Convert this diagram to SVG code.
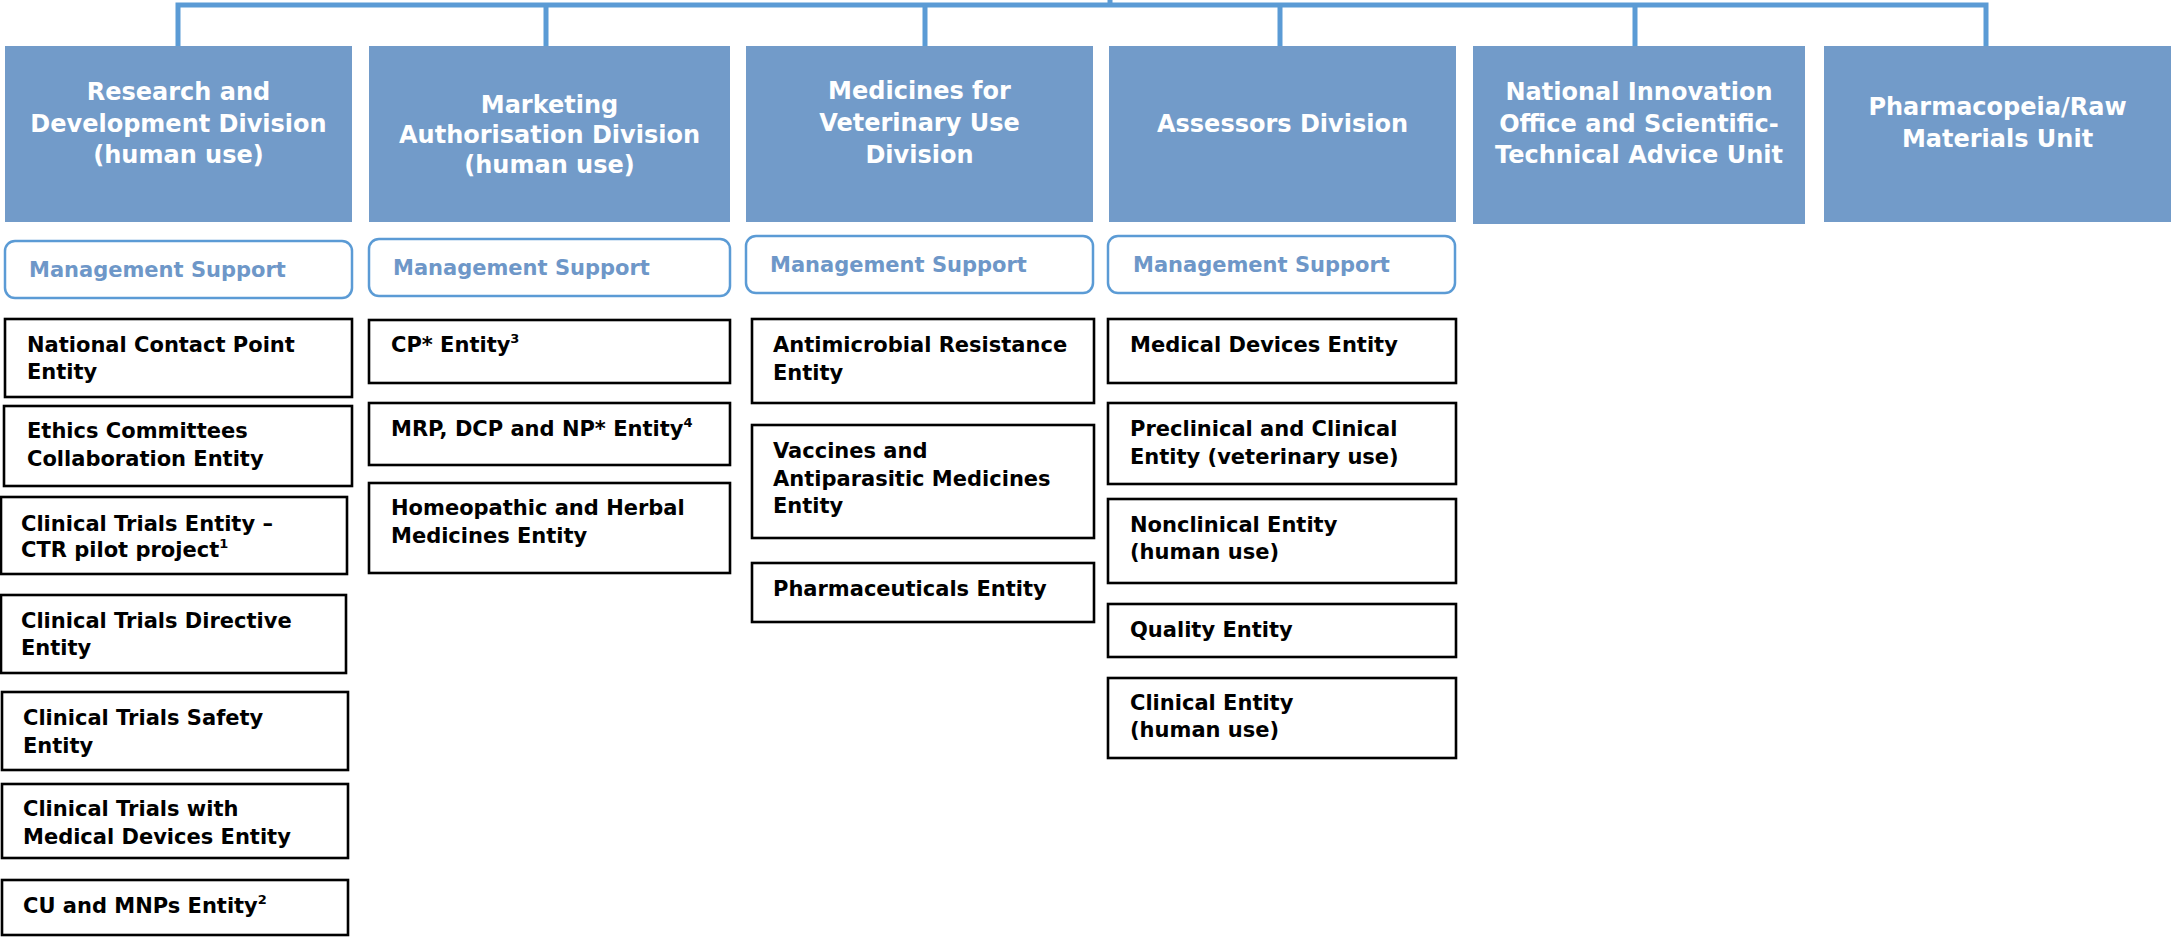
<svg xmlns="http://www.w3.org/2000/svg" width="2172" height="937" viewBox="0 0 2172 937">
<style>
.div rect{fill:#729BC9;}
.div text{fill:#fff;font-family:"DejaVu Sans",Verdana,sans-serif;font-weight:bold;font-size:24px;text-anchor:middle;}
.ms rect{fill:#fff;stroke:#5B9BD5;stroke-width:2.5;}
.ms text{fill:#6E97C8;font-family:"DejaVu Sans",Verdana,sans-serif;font-weight:bold;font-size:21px;}
.ent rect{fill:#fff;stroke:#000;stroke-width:2.6;}
.ent text{fill:#000;font-family:"DejaVu Sans",Verdana,sans-serif;font-weight:bold;font-size:21px;}
.sup{font-size:13px;}
.conn{fill:none;stroke:#5B9BD5;stroke-width:5;}
</style>
<rect width="2172" height="937" fill="#fff"/>
<g id="connectors">
<path class="conn" d="M178,46 V5 H1986 V46"/>
<path class="conn" d="M546,5 V46 M925,5 V46 M1280,5 V46 M1635,5 V46 M1110,0 V5"/>
</g>
<g id="div-rd" class="div"><rect x="5" y="46" width="347" height="176"/><text x="178.5" y="100">Research and</text><text x="178.5" y="131.5">Development Division</text><text x="178.5" y="163">(human use)</text></g>
<g id="div-ma" class="div"><rect x="369" y="46" width="361" height="176"/><text x="549.5" y="113">Marketing</text><text x="549.5" y="143">Authorisation Division</text><text x="549.5" y="173">(human use)</text></g>
<g id="div-vet" class="div"><rect x="746" y="46" width="347" height="176"/><text x="919.5" y="99">Medicines for</text><text x="919.5" y="131">Veterinary Use</text><text x="919.5" y="163">Division</text></g>
<g id="div-ass" class="div"><rect x="1109" y="46" width="347" height="176"/><text x="1282.5" y="132">Assessors Division</text></g>
<g id="div-nio" class="div"><rect x="1473" y="46" width="332" height="178"/><text x="1639" y="100">National Innovation</text><text x="1639" y="132">Office and Scientific-</text><text x="1639" y="163">Technical Advice Unit</text></g>
<g id="div-ph" class="div"><rect x="1824" y="46" width="347" height="176"/><text x="1997.5" y="115">Pharmacopeia/Raw</text><text x="1997.5" y="147">Materials Unit</text></g>

<g id="ms-rd" class="ms"><rect x="5" y="241" width="347" height="57" rx="10"/><text x="29" y="277">Management Support</text></g>
<g id="ms-ma" class="ms"><rect x="369" y="239" width="361" height="57" rx="10"/><text x="393" y="275">Management Support</text></g>
<g id="ms-vet" class="ms"><rect x="746" y="236" width="347" height="57" rx="10"/><text x="770" y="272">Management Support</text></g>
<g id="ms-ass" class="ms"><rect x="1108" y="236" width="347" height="57" rx="10"/><text x="1133" y="272">Management Support</text></g>

<g id="e-ncp" class="ent"><rect x="5" y="319" width="347" height="78"/><text x="27" y="352">National Contact Point</text><text x="27" y="379">Entity</text></g>
<g id="e-ethics" class="ent"><rect x="4" y="406" width="348" height="80"/><text x="27" y="438">Ethics Committees</text><text x="27" y="466">Collaboration Entity</text></g>
<g id="e-ctr" class="ent"><rect x="1" y="497" width="346" height="77"/><text x="21" y="531">Clinical Trials Entity –</text><text x="21" y="557">CTR pilot project<tspan class="sup" dy="-9">1</tspan></text></g>
<g id="e-ctd" class="ent"><rect x="1" y="595" width="345" height="78"/><text x="21" y="628">Clinical Trials Directive</text><text x="21" y="655">Entity</text></g>
<g id="e-cts" class="ent"><rect x="2" y="692" width="346" height="78"/><text x="23" y="725">Clinical Trials Safety</text><text x="23" y="753">Entity</text></g>
<g id="e-ctmd" class="ent"><rect x="2" y="784" width="346" height="74"/><text x="23" y="816">Clinical Trials with</text><text x="23" y="844">Medical Devices Entity</text></g>
<g id="e-cu" class="ent"><rect x="2" y="880" width="346" height="55"/><text x="23" y="913">CU and MNPs Entity<tspan class="sup" dy="-9">2</tspan></text></g>

<g id="e-cp" class="ent"><rect x="369" y="320" width="361" height="63"/><text x="391" y="352">CP* Entity<tspan class="sup" dy="-9">3</tspan></text></g>
<g id="e-mrp" class="ent"><rect x="369" y="403" width="361" height="62"/><text x="391" y="436">MRP, DCP and NP* Entity<tspan class="sup" font-size="10" dy="-9">4</tspan></text></g>
<g id="e-homeo" class="ent"><rect x="369" y="483" width="361" height="90"/><text x="391" y="515">Homeopathic and Herbal</text><text x="391" y="543">Medicines Entity</text></g>

<g id="e-amr" class="ent"><rect x="752" y="319" width="342" height="84"/><text x="773" y="352">Antimicrobial Resistance</text><text x="773" y="380">Entity</text></g>
<g id="e-vacc" class="ent"><rect x="752" y="425" width="342" height="113"/><text x="773" y="458">Vaccines and</text><text x="773" y="486">Antiparasitic Medicines</text><text x="773" y="513">Entity</text></g>
<g id="e-pharm" class="ent"><rect x="752" y="563" width="342" height="59"/><text x="773" y="596">Pharmaceuticals Entity</text></g>

<g id="e-md" class="ent"><rect x="1108" y="319" width="348" height="64"/><text x="1130" y="352">Medical Devices Entity</text></g>
<g id="e-preclin" class="ent"><rect x="1108" y="403" width="348" height="81"/><text x="1130" y="436">Preclinical and Clinical</text><text x="1130" y="464">Entity (veterinary use)</text></g>
<g id="e-nonclin" class="ent"><rect x="1108" y="499" width="348" height="84"/><text x="1130" y="532">Nonclinical Entity</text><text x="1130" y="559">(human use)</text></g>
<g id="e-quality" class="ent"><rect x="1108" y="604" width="348" height="53"/><text x="1130" y="637">Quality Entity</text></g>
<g id="e-clin" class="ent"><rect x="1108" y="678" width="348" height="80"/><text x="1130" y="710">Clinical Entity</text><text x="1130" y="737">(human use)</text></g>
</svg>
